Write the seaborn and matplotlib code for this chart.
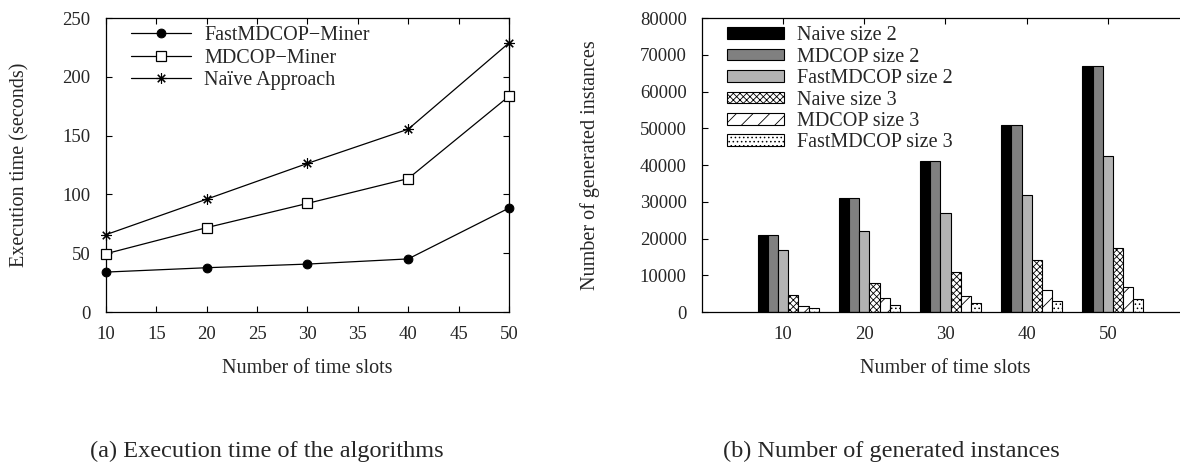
import pandas as pd
import matplotlib
matplotlib.use("Agg")
import matplotlib.pyplot as plt
import seaborn as sns
import numpy as np

# Data
slots = [10, 20, 30, 40, 50]

# (a) execution time in seconds
fast_miner = [34, 37.7, 40.8, 45.2, 88.4]
mdcop_miner = [49.6, 71.8, 92.4, 113.5, 183.5]
naive_approach = [65.8, 96, 126.4, 155.5, 228.8]
line_labels = ['FastMDCOP\u2212Miner', 'MDCOP\u2212Miner', 'Na\u00efve Approach']

# (b) number of generated instances
naive_s2 = [21000, 31000, 41000, 51000, 67000]
mdcop_s2 = [21000, 31000, 41000, 51000, 67000]
fast_s2 = [17000, 22100, 27000, 31900, 42600]
naive_s3 = [4600, 7900, 11000, 14200, 17500]
mdcop_s3 = [1700, 3800, 4500, 6000, 6900]
fast_s3 = [1200, 2000, 2500, 3000, 3600]
bar_labels = ['Naive size 2', 'MDCOP size 2', 'FastMDCOP size 2',
              'Naive size 3', 'MDCOP size 3', 'FastMDCOP size 3']

sns.set_style('ticks')
plt.rcParams['font.family'] = ['Liberation Serif', 'DejaVu Serif']
plt.rcParams['hatch.linewidth'] = 0.6

fig = plt.figure(figsize=(11.8, 4.63), dpi=100)
ax1 = fig.add_axes([0.0898, 0.326, 0.3415, 0.635])
ax2 = fig.add_axes([0.5949, 0.326, 0.4127, 0.635])

FS = 14.5

# --- (a) line chart ---
styles = [dict(marker='o', markersize=6.3, markerfacecolor='black', markeredgecolor='black'),
          dict(marker='s', markersize=6.8, markerfacecolor='white', markeredgecolor='black', markeredgewidth=0.9),
          dict(marker=(8, 2, 0), markersize=7.5, markeredgecolor='black', markeredgewidth=0.8)]
for vals, lab, st in zip([fast_miner, mdcop_miner, naive_approach], line_labels, styles):
    sns.lineplot(x=slots, y=vals, ax=ax1, color='black', linewidth=0.9, label=lab,
                 clip_on=False, zorder=3, **st)

ax1.set_xlim(10, 50)
ax1.set_ylim(0, 250)
ax1.set_xticks(range(10, 51, 5))
ax1.set_yticks(range(0, 251, 50))
ax1.set_xlabel('Number of time slots', fontsize=FS)
ax1.set_ylabel('Execution time (seconds)', fontsize=FS)
ax1.xaxis.set_label_coords(0.5, -0.16)
ax1.yaxis.set_label_coords(-0.19, 0.5)
ax1.legend(loc='upper left', bbox_to_anchor=(0.063, 0.972), frameon=False, fontsize=FS,
           handlelength=2.98, handletextpad=0.65, labelspacing=0.16, borderpad=0, borderaxespad=0)

# --- (b) bar chart ---
df = pd.DataFrame({
    'slots': np.repeat(slots, len(bar_labels)),
    'method': bar_labels * len(slots),
    'count': np.array([naive_s2, mdcop_s2, fast_s2, naive_s3, mdcop_s3, fast_s3]).T.ravel(),
})
sns.barplot(data=df, x='slots', y='count', hue='method', hue_order=bar_labels, ax=ax2,
            width=0.75, gap=0, errorbar=None, legend=False)

faces = ['black', '#808080', '#b3b3b3', 'white', 'white', 'white']
hatches = [None, None, None, 'xxxxx', '//', '....']
for cont, fc, h in zip(ax2.containers, faces, hatches):
    for p in cont:
        p.set_facecolor(fc)
        p.set_edgecolor('black')
        p.set_linewidth(0.8)
        if h:
            p.set_hatch(h)

ax2.set_xlim(-1.0625, 4.9375)
ax2.set_ylim(0, 80000)
ax2.set_xticks(np.arange(len(slots)) - 0.0625, [str(s) for s in slots])
ax2.set_yticks(range(0, 80001, 10000))
ax2.set_xlabel('Number of time slots', fontsize=FS)
ax2.set_ylabel('Number of generated instances', fontsize=FS)
ax2.xaxis.set_label_coords(0.5, -0.16)
ax2.yaxis.set_label_coords(-0.21, 0.5)
ax2.legend(ax2.containers, bar_labels, loc='upper left', bbox_to_anchor=(0.052, 0.972),
           frameon=False, fontsize=FS, handlelength=2.83, handleheight=0.51,
           handletextpad=0.63, labelspacing=0.12, borderpad=0, borderaxespad=0)

for ax in (ax1, ax2):
    for s in ax.spines.values():
        s.set_linewidth(0.9)
        s.set_color('black')
    ax.tick_params(direction='in', length=4, width=0.8, labelsize=13.5, color='black',
                   top=True, right=True)
    ax.tick_params(axis='y', pad=11)
    ax.tick_params(axis='x', pad=10)
ax2.tick_params(axis='x', bottom=False)

fig.text(0.226, 0.013, '(a) Execution time of the algorithms', ha='center', va='baseline', fontsize=17.5)
fig.text(0.755, 0.013, '(b) Number of generated instances', ha='center', va='baseline', fontsize=17.5)

fig.savefig('out.png', dpi=100)
